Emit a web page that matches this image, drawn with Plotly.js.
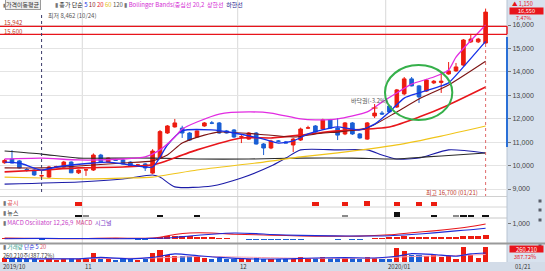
<!DOCTYPE html>
<html><head><meta charset="utf-8">
<script src="https://cdn.plot.ly/plotly-3.0.1.min.js"></script>
<style>html,body{margin:0;padding:0;background:#fff;overflow:hidden}#chart{width:545px;height:271px}</style>
</head><body><div id="chart"></div>
<script>
// ---------------- DATA ----------------
const dates = ['2019-10-17','2019-10-18','2019-10-21','2019-10-22','2019-10-23','2019-10-24','2019-10-25','2019-10-28','2019-10-29','2019-10-30','2019-10-31',
'2019-11-01','2019-11-04','2019-11-05','2019-11-06','2019-11-07','2019-11-08','2019-11-11','2019-11-12','2019-11-13','2019-11-14','2019-11-15','2019-11-18','2019-11-19','2019-11-20','2019-11-21','2019-11-22','2019-11-25','2019-11-26','2019-11-27','2019-11-28','2019-11-29',
'2019-12-02','2019-12-03','2019-12-04','2019-12-05','2019-12-06','2019-12-09','2019-12-10','2019-12-11','2019-12-12','2019-12-13','2019-12-16','2019-12-17','2019-12-18','2019-12-19','2019-12-20','2019-12-23','2019-12-24','2019-12-26','2019-12-27','2019-12-30',
'2020-01-02','2020-01-03','2020-01-06','2020-01-07','2020-01-08','2020-01-09','2020-01-10','2020-01-13','2020-01-14','2020-01-15','2020-01-16','2020-01-17','2020-01-20','2020-01-21'];
const monthLabels = ['2019/10','11','12','2020/01'];
const lastDateLabel = '01/21';

const open  = [10120,10280,10200,9830,9810,9560,9510,9940,9940,10150,9690,9810,9810,10450,10150,10240,10240,10150,10020,10070,9680,10340,11390,11650,11600,11390,11220,11690,11820,11820,11480,11520,11220,11130,11390,10920,10750,11050,11010,10880,11090,11600,11690,11560,11950,11600,11350,11820,11350,11130,12120,12240,12540,12500,13060,13700,13400,13180,13530,13550,13910,14040,14290,15280,15280,15230];
const high  = [10280,10660,10240,9900,9850,9620,9990,9990,10200,10180,9830,9850,10520,10500,10340,10290,10280,10180,10070,10110,10700,11520,11730,11990,11700,11430,11500,11860,11900,11860,11520,11560,11300,11430,11430,10960,11100,11090,11050,11180,11620,11700,11730,12000,11990,12030,11860,11860,11390,11860,12460,12330,12600,13270,13780,13780,13440,13700,13650,13950,14420,14380,15400,15620,15450,16700];
const low   = [10080,10100,9880,9740,9560,9470,9470,9900,9920,9680,9640,9560,9770,10150,10130,10200,10050,9960,9980,9770,9640,10320,11350,11620,11180,11050,11200,11660,11770,11360,11370,11180,10960,11100,10900,10450,10700,11000,10950,10580,11050,11560,11400,11520,11580,11090,11300,11310,11150,11100,12030,12160,12250,12460,13000,13380,12670,13150,13480,13100,13880,14000,14250,15230,15230,15200];
const close = [10220,10110,9900,9810,9600,9570,9940,9960,10150,9690,9810,9820,10450,10160,10320,10230,10070,9980,10030,9900,10620,11450,11690,11820,11390,11090,11480,11820,11810,11390,11390,11220,11230,11390,10920,10750,11050,11040,10960,11130,11560,11610,11430,11950,11600,11300,11820,11350,11180,11820,12240,12200,12290,13230,13700,13400,12930,13650,13600,13600,14040,14210,15360,15400,15400,16550];
const volume = [70000,55000,65000,50000,55000,40000,70000,40000,55000,70000,50000,50000,150000,85000,55000,40000,50000,50000,40000,55000,150000,205000,120000,100000,105000,100000,100000,70000,50000,70000,50000,50000,55000,50000,70000,55000,55000,50000,45000,60000,90000,65000,70000,90000,75000,75000,70000,65000,55000,90000,70000,50000,55000,240000,185000,115000,120000,100000,115000,80000,125000,55000,255000,115000,70000,260210];

// moving averages / bands (candle index, value)
const ma5Idx  = [0,2,5,7,12,14,17,20,22,24,28,31,35,37,39,41,44,45,48,50,52,54,56,59,60,62,65];
const ma5Val  = [10150,10110,9810,9940,10110,10150,10030,9940,10880,11480,11520,11390,11130,10960,11050,11350,11600,11650,11520,11770,12290,12880,13100,13400,13530,14210,15300];
const ma10Idx = [0,5,10,16,20,22,24,27,29,34,39,43,45,49,53,56,60,65];
const ma10Val = [9900,9900,9980,10110,10200,10450,10960,11300,11430,11350,11220,11390,11430,11600,12290,12840,13440,14450];
const ma20Idx = [0,5,10,16,20,21,26,32,36,40,45,52,56,60,65];
const ma20Val = [9730,9810,9900,9940,10030,10110,10670,11180,11180,11300,11480,11650,12070,12590,13350];
const ma60Idx = [0,5,10,16,20,26,35,40,45,53,59,65];
const ma60Val = [9510,9470,9430,9470,9510,9810,10150,10370,10540,10880,11260,11690];
const ma120Idx = [0,5,10,16,20,26,33,40,47,53,57,61,65];
const ma120Val = [10620,10490,10320,10320,10320,10280,10280,10320,10320,10280,10370,10450,10540];
const bbUpIdx = [0,5,10,16,19,21,23,24,26,29,33,36,40,42,45,49,51,53,55,58,60,61,65];
const bbUpVal = [10280,10320,10240,10280,10370,10670,11220,11560,11860,12200,12290,12240,11990,11950,11990,12290,12710,13100,13480,13780,14080,14630,16000];
const bbLoIdx = [0,10,16,20,21,23,28,32,36,38,40,45,49,51,53,56,60,65];
const bbLoVal = [9210,9300,9430,9600,9510,9090,9130,9470,9980,10320,10670,10670,10670,10450,10280,10320,10670,10540];

// 공시 / 뉴스 event markers
const gongsiIdx = [10,42,46,49,53,56,58];
const gongsiCnt = [1,1,1,2,1,1,1];
const newsIdx = [10,11,21,26,46,53,58,61,62,63,65];
const newsCnt = [2,1,2,2,1,3,2,1,2,2,2];

// MACD oscillator 12,26,9
const macdOsc = [60,50,40,30,10,-40,-30,10,20,10,-10,10,60,60,50,40,10,-10,-40,-50,40,150,190,200,190,170,150,130,110,80,60,30,-30,-40,-60,-80,-80,-70,-80,-60,-40,-30,-30,-10,-20,-40,-30,-40,-50,-10,40,80,100,140,170,160,130,130,130,120,140,150,210,230,220,280];
const macdIdx = [0,5,10,15,19,21,23,25,28,31,34,36,40,44,48,52,55,58,61,63,65];
const macdVal = [60,30,20,60,40,120,300,400,400,320,280,260,200,190,190,280,420,540,700,830,1000];
const sigIdx  = [0,5,10,15,19,21,23,25,28,31,34,36,40,44,48,52,55,58,61,63,65];
const sigVal  = [20,40,30,20,30,50,100,200,320,400,360,300,240,210,200,220,300,410,540,620,720];

// volume averages (단순 5, 20)
const vol5Idx = [0,5,10,13,17,20,23,26,29,33,38,42,46,50,53,55,58,61,63,65];
const vol5Val = [60000,55000,55000,80000,55000,80000,140000,110000,80000,55000,55000,70000,75000,70000,100000,145000,130000,100000,140000,155000];
const vol20Idx = [0,10,20,26,32,40,50,55,60,65];
const vol20Val = [60000,58000,70000,95000,85000,65000,68000,95000,110000,130000];

const priceTicks = [9000,10000,11000,12000,13000,14000,15000,16000];
const macdTicks = [1000];
const lineLevels = [15942, 15600];
const lowInfo = '최저 8,462 (10/24)';
const highInfo = '최고 16,700 (01/21)';
const lastPrice = '16,550', lastChange = '▲ 1,150', lastPct = '7.47%';
const lastVol = '260,210', lastVolPct = '387.72%';

// ---------------- DRAW ----------------
const W = 545, H = 271, PR = 507;
const fx = x => x / W, fy = y => 1 - y / H;
const RED = '#ec1c10', BLUE = '#1a5fd4';
const FONT = 'Noto Sans CJK KR, Noto Sans, sans-serif';
const idx = dates.map((d, i) => i);
const fmt = v => v.toLocaleString('en-US');

const traces = [];
traces.push({type:'candlestick', x: idx, open, high, low, close, xaxis:'x', yaxis:'y',
  increasing:{line:{color:RED,width:1}, fillcolor:RED},
  decreasing:{line:{color:BLUE,width:1}, fillcolor:BLUE},
  whiskerwidth:0, hoverinfo:'skip'});
const addLine = (xs, ys, color, w, ya) => traces.push({type:'scatter', mode:'lines', x:xs, y:ys,
  xaxis:'x', yaxis:ya||'y', line:{color, width:w, shape:'spline', smoothing:0.6}, hoverinfo:'skip'});
addLine(bbLoIdx, bbLoVal, '#1c1ca8', 1.1);
addLine(ma120Idx, ma120Val, '#2a2a2a', 1.1);
addLine(ma60Idx, ma60Val, '#f0c419', 1.2);
addLine(ma20Idx, ma20Val, '#e8161b', 1.6);
addLine(ma10Idx, ma10Val, '#7d1515', 1.1);
addLine(ma5Idx, ma5Val, '#1530e8', 1.3);
addLine(bbUpIdx, bbUpVal, '#e22be2', 1.3);

traces.push({type:'bar', x:gongsiIdx, y:gongsiCnt.map(c => 2.6 + c), base:1, width:0.85,
  xaxis:'x', yaxis:'y2', marker:{color:RED}, hoverinfo:'skip'});
traces.push({type:'bar', x:newsIdx, y:newsCnt.map(c => c === 3 ? 5 : 1.6), base:1.4, width:0.85,
  xaxis:'x', yaxis:'y3', marker:{color:newsCnt.map(c => c === 1 ? '#8a8a8a' : '#111')}, hoverinfo:'skip'});

traces.push({type:'bar', x:idx, y:macdOsc, width:0.8, xaxis:'x', yaxis:'y4',
  marker:{color:macdOsc.map(v => v >= 0 ? RED : BLUE)}, hoverinfo:'skip'});
addLine(macdIdx, macdVal, '#e8161b', 1.1, 'y4');
addLine(sigIdx, sigVal, '#1c2bd8', 1.1, 'y4');

traces.push({type:'bar', x:idx, y:volume, width:0.72, xaxis:'x', yaxis:'y5',
  marker:{color:idx.map(i => close[i] >= open[i] ? RED : BLUE)}, hoverinfo:'skip'});
addLine(vol20Idx, vol20Val, '#f49ab0', 1, 'y5');
addLine(vol5Idx, vol5Val, '#1c2bd8', 1.1, 'y5');

// month boundaries from dates
const monthStarts = [0];
for (let i = 1; i < dates.length; i++) if (dates[i].slice(5,7) !== dates[i-1].slice(5,7)) monthStarts.push(i);

const shapes = [];
const rect = (x0,y0,x1,y1,fill,layer) => shapes.push({type:'rect', xref:'paper', yref:'paper', x0:fx(x0), x1:fx(x1), y0:fy(y1), y1:fy(y0), fillcolor:fill, line:{width:0}, layer:layer||'below'});
const pline = (x0,y0,x1,y1,color,w,dash,layer) => shapes.push({type:'line', xref:'paper', yref:'paper', x0:fx(x0), x1:fx(x1), y0:fy(y0), y1:fy(y1), line:{color, width:w, dash:dash||'solid'}, layer:layer||'above'});
rect(PR, 0, W, 262, '#d8e2ee');
rect(0, 262, W, H, '#d3dce8');
// month grid lines
monthStarts.slice(1).forEach(m => shapes.push({type:'line', xref:'x', yref:'paper', x0:m-0.5, x1:m-0.5, y0:fy(262), y1:1, line:{color:'#d9d9d9', width:1}, layer:'below'}));
// panel separators
pline(0,196.5,PR,196.5,'#d0d0d0',1,'solid','below');
pline(0,207,PR,207,'#d6d6d6',1,'solid','below');
pline(0,218,PR,218,'#c8c8c8',1,'solid','below');
pline(0,243.5,W,243.5,'#9a9a9a',1.8);
pline(PR,0,PR,262,'#b8c4d2',1,'solid','below');
// red level lines
lineLevels.forEach(v => shapes.push({type:'line', xref:'paper', yref:'y', x0:0, x1:fx(PR), y0:v, y1:v, line:{color:'#e8141b', width:1.4}}));
shapes.push({type:'line', xref:'paper', yref:'y', x0:fx(PR), x1:fx(PR), y0:lineLevels[0], y1:lineLevels[1], line:{color:'#e8141b', width:1.4}});
// blue scroll marker
pline(PR,37,PR,147,'#2a6fd6',2);
// dotted markers for low / high
shapes.push({type:'line', xref:'x', yref:'paper', x0:5, x1:5, y0:fy(192), y1:fy(13), line:{color:'#3a3a6a', width:1, dash:'dot'}});
shapes.push({type:'line', xref:'x', yref:'paper', x0:65, x1:65, y0:fy(44), y1:fy(196), line:{color:'#e06a6a', width:1, dash:'dot'}});
// green highlight ellipse
shapes.push({type:'circle', xref:'x', yref:'y', x0:51.4, x1:60.5, y0:11945, y1:14290, line:{color:'#35b04a', width:2}});
// annotation arrow marker at 50
shapes.push({type:'line', xref:'x', yref:'paper', x0:50, x1:50, y0:fy(104), y1:fy(114), line:{color:RED, width:1}});
shapes.push({type:'line', xref:'x', yref:'paper', x0:49.6, x1:50.4, y0:fy(108), y1:fy(108), line:{color:RED, width:1}});
// legend toggle squares
[201, 210, 220, 246].forEach(y => rect(538.5, y-1.5, 541.5, y+1.5, '#5a5f6a', 'above'));

const anns = [];
const ann = (x, y, text, o) => anns.push(Object.assign({xref:'paper', yref:'paper', x:fx(x), y:fy(y), text, showarrow:false, xanchor:'left', yanchor:'middle', font:{family:FONT, size:6, color:'#333'}}, o||{}));
const sp = (c, t) => '<span style="color:' + c + '">' + t + '</span>';
ann(1, 5, sp('#777','▮'), {font:{family:FONT,size:5,color:'#777'}});
ann(5, 5, '가격이동평균', {bgcolor:'#eeeeee', bordercolor:'#9a9a9a', borderwidth:1, borderpad:0, font:{family:FONT,size:6,color:'#333'}});
ann(53, 5, sp('#777','▮') + ' ' + sp('#222','종가 단순') + ' ' + sp('#1530e8','5') + ' ' + sp('#8b1c1c','10') + ' ' + sp('#e8161b','20') + ' ' + sp('#e6c21a','60') + ' ' + sp('#555','120') + ' ' + sp('#777','▮') + ' ' + sp('#d42ad4','Bollinger Bands(중심선 20,2') + '  ' + sp('#d42ad4','상한선') + '  ' + sp('#1c1c8c','하한선'));
ann(46, 15, lowInfo, {font:{family:FONT,size:6,color:'#555'}});
ann(2, 22, fmt(lineLevels[0]), {font:{family:FONT,size:6,color:'#c0392b'}});
ann(2, 32, fmt(lineLevels[1]), {font:{family:FONT,size:6,color:'#c0392b'}});
ann(349, 100, '바닥권(-3.2%)', {font:{family:FONT,size:6,color:'#555'}});
ann(480, 192, highInfo, {xanchor:'right', font:{family:FONT,size:6,color:'#c0392b'}});
ann(1, 202.5, sp('#777','▮') + ' ' + sp('#e04848','공시'));
ann(1, 212, sp('#777','▮') + ' ' + sp('#222','뉴스'));
ann(1, 222.5, sp('#777','▮') + ' ' + sp('#c83cc8','MACD Oscillator 12,26,9') + '  ' + sp('#d0388a','MACD') + '  ' + sp('#7a3cc8','시그널'));
ann(1, 247.3, sp('#777','▮') + ' ' + sp('#2a9a8a','거래량') + ' ' + sp('#1c2bd8','단순 5') + ' ' + sp('#e05a6a','20'), {font:{family:FONT,size:5.6,color:'#333'}});
ann(1, 255.6, lastVol + '주(' + lastVolPct + ')', {font:{family:FONT,size:5.6,color:'#333'}});
// right panel
ann(510, 3.6, lastChange, {font:{family:FONT,size:5.6,color:'#e8141b'}});
ann(526.5, 10.6, lastPrice, {xanchor:'center', bgcolor:'#e8141b', borderpad:0, width:33, height:5.5, font:{family:FONT,size:5.6,color:'#fff'}});
ann(514, 18.4, lastPct, {font:{family:FONT,size:5.4,color:'#e8141b'}});
ann(526.5, 248.6, lastVol, {xanchor:'center', bgcolor:'#e8141b', borderpad:0, width:33, height:6, font:{family:FONT,size:5.8,color:'#fff'}});
ann(512, 257.2, lastVolPct, {font:{family:FONT,size:5.6,color:'#e8141b'}});
// date labels
monthStarts.forEach((m, k) => {
  const a = {xref: k === 0 ? 'paper' : 'x', x: k === 0 ? fx(1) : m - 0.45, yref:'paper', y: fy(266.5), text: monthLabels[k], showarrow:false, xanchor:'left', yanchor:'middle', font:{family:FONT, size:6, color:'#333'}};
  anns.push(a);
});
ann(513, 266.5, lastDateLabel);

const layout = {
  width:W, height:H, margin:{l:0,r:0,t:0,b:0}, paper_bgcolor:'#ffffff', plot_bgcolor:'rgba(0,0,0,0)',
  showlegend:false, bargap:0, barmode:'overlay',
  xaxis:{domain:[0, fx(PR)], range:[-0.62, 67.89], showgrid:false, zeroline:false, showticklabels:false, ticks:'', rangeslider:{visible:false}, anchor:'y5', fixedrange:true},
  yaxis:{domain:[fy(197), 1], range:[8659, 17067], side:'right', anchor:'x', tickvals:priceTicks, ticktext:priceTicks.map(fmt),
    showgrid:true, gridcolor:'#e4e4e4', gridwidth:1, zeroline:false, ticks:'outside', ticklen:3, tickcolor:'#777',
    tickfont:{family:'Liberation Sans, Arial, sans-serif', size:7, color:'#444'}, fixedrange:true},
  yaxis2:{domain:[fy(207), fy(197)], range:[0,10], visible:false, anchor:'x', fixedrange:true},
  yaxis3:{domain:[fy(218), fy(207)], range:[0,11], visible:false, anchor:'x', fixedrange:true},
  yaxis4:{domain:[fy(243), fy(219)], range:[-267,1333], side:'right', anchor:'x', tickvals:macdTicks, ticktext:macdTicks.map(fmt),
    showgrid:false, zeroline:false, ticks:'outside', ticklen:3, tickcolor:'#777', tickfont:{family:'Liberation Sans, Arial, sans-serif', size:7, color:'#444'}, fixedrange:true},
  yaxis5:{domain:[fy(262), fy(244)], range:[0,312000], visible:false, anchor:'x', fixedrange:true},
  shapes, annotations: anns
};
Plotly.newPlot('chart', traces, layout, {staticPlot:true, displayModeBar:false});
</script>
</body></html>
